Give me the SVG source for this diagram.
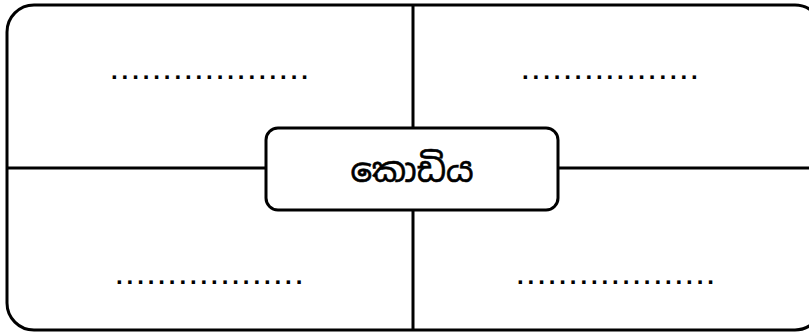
<svg xmlns="http://www.w3.org/2000/svg" width="809" height="332" viewBox="0 0 809 332">
  <style>
    .frame { fill: #ffffff; stroke: #000000; stroke-width: 3; }
    .line { fill: none; stroke: #000000; stroke-width: 3; }
    .box { fill: #ffffff; stroke: #000000; stroke-width: 3; }
    .title { font-family: "Noto Sans Sinhala", "Iskoola Pota", "Noto Sans", "DejaVu Sans", sans-serif; font-size: 34px; fill: #000000; stroke: #000000; stroke-width: 0.6; text-anchor: middle; }
    .dots { font-family: "Liberation Sans", Arial, sans-serif; font-size: 24px; font-weight: bold; fill: #000000; letter-spacing: 3.9px; }
  </style>
  <rect width="809" height="332" fill="#ffffff"/>
  <g id="frame">
    <rect class="frame" x="7" y="5" width="815" height="325" rx="27" ry="27"/>
  </g>
  <g id="connectors">
    <line class="line" x1="413" y1="5" x2="413" y2="330"/>
    <line class="line" x1="7" y1="168" x2="822" y2="168"/>
  </g>
  <g id="top-left">
    <text class="dots" x="111" y="79">...................</text>
  </g>
  <g id="top-right">
    <text class="dots" x="522" y="79">.................</text>
  </g>
  <g id="bottom-left">
    <text class="dots" x="116" y="284">..................</text>
  </g>
  <g id="bottom-right">
    <text class="dots" x="517" y="284">...................</text>
  </g>
  <g id="center">
    <rect class="box" x="266" y="128" width="292" height="82" rx="12" ry="12"/>
    <text class="title" x="412" y="182">කොඩිය</text>
  </g>
</svg>
